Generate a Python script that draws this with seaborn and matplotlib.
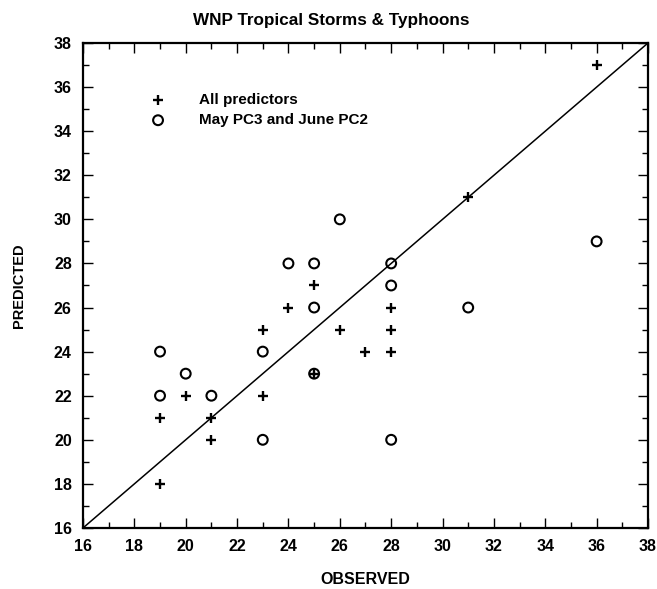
import matplotlib
matplotlib.use("Agg")
import matplotlib.pyplot as plt
import matplotlib.ticker as mticker
import pandas as pd
import seaborn as sns

# ── Data ────────────────────────────────────────────────────────────────────
AXIS_RANGE = [16, 38]

all_obs = [19, 19, 20, 21, 21, 23, 23, 24, 25, 25, 26, 27, 28, 28, 28, 31, 36]
all_pred = [21, 18, 22, 21, 20, 25, 22, 26, 27, 23, 25, 24, 26, 25, 24, 31, 37]

pc_obs = [19, 19, 20, 21, 23, 23, 24, 25, 25, 25, 26, 28, 28, 28, 31, 36]
pc_pred = [24, 22, 23, 22, 24, 20, 28, 28, 26, 23, 30, 28, 27, 20, 26, 29]

LABEL_ALL = "All predictors"
LABEL_PC = "May PC3 and June PC2"

sns.set_theme(style="ticks")
plt.rcParams["font.family"] = ["Liberation Sans", "DejaVu Sans"]
plt.rcParams["font.weight"] = "bold"
plt.rcParams.update({"text.color": "black", "axes.labelcolor": "black",
                     "xtick.color": "black", "ytick.color": "black"})

df_all = pd.DataFrame({"observed": all_obs, "predicted": all_pred})
df_pc = pd.DataFrame({"observed": pc_obs, "predicted": pc_pred})

fig = plt.figure(figsize=(6.57, 5.89), dpi=100)
ax = fig.add_axes([0.1263, 0.1036, 0.860, 0.8234])

ax.plot(AXIS_RANGE, AXIS_RANGE, color="black", linewidth=1.1, zorder=1)

sns.scatterplot(data=df_all, x="observed", y="predicted", ax=ax,
                marker="+", s=60, color="black", linewidth=1.7,
                label=LABEL_ALL, zorder=3)
sns.scatterplot(data=df_pc, x="observed", y="predicted", ax=ax,
                marker="o", s=50, facecolor="none", edgecolor="black",
                linewidth=1.5, label=LABEL_PC, zorder=3)

ax.set_xlim(AXIS_RANGE)
ax.set_ylim(AXIS_RANGE)
ax.xaxis.set_major_locator(mticker.MultipleLocator(2))
ax.yaxis.set_major_locator(mticker.MultipleLocator(2))
ax.xaxis.set_minor_locator(mticker.MultipleLocator(1))
ax.yaxis.set_minor_locator(mticker.MultipleLocator(1))
ax.tick_params(which="both", direction="in", top=True, right=True,
               color="black", labelcolor="black", width=1.0)
ax.tick_params(which="major", length=7, labelsize=11.5, pad=8)
ax.tick_params(which="minor", length=4)
for lbl in ax.get_xticklabels() + ax.get_yticklabels():
    lbl.set_fontweight("bold")
for sp in ax.spines.values():
    sp.set_linewidth(1.6)
    sp.set_color("black")

ax.set_xlabel("OBSERVED", fontsize=11.5, fontweight="bold", labelpad=13)
ax.set_ylabel("PREDICTED", fontsize=10.5, fontweight="bold", labelpad=20)
ax.set_title("WNP Tropical Storms & Typhoons", fontsize=12.3,
             fontweight="bold", pad=13, x=0.44)

leg = ax.legend(loc="upper left", bbox_to_anchor=(0.095, 0.925), frameon=False,
                fontsize=11, handletextpad=2.2, labelspacing=0.4,
                handlelength=1.0)
for t in leg.get_texts():
    t.set_fontweight("bold")

fig.savefig("out.png", dpi=100)
